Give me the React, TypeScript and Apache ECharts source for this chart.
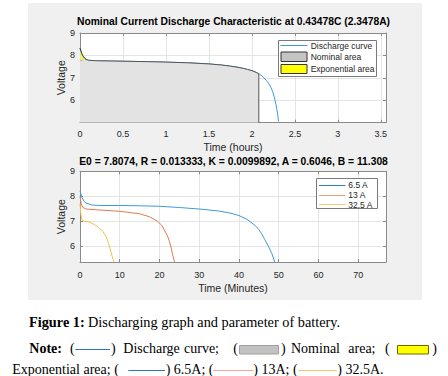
import React, { useEffect, useRef } from "react";
import * as echarts from "echarts";

// ---- Top plot: nominal current discharge (time in hours, voltage)
const dischargeHours = [0, 0.01, 0.02, 0.03, 0.04, 0.055, 0.07, 0.1, 0.2, 0.5, 0.8, 1.0, 1.25, 1.5, 1.65, 1.75, 1.85, 1.9, 1.95, 2.0, 2.05, 2.08, 2.11, 2.14, 2.17, 2.2, 2.22, 2.24, 2.26, 2.27, 2.28, 2.29, 2.3, 2.31];
const dischargeVolts = [8.33, 8.2, 8.08, 8.0, 7.94, 7.87, 7.82, 7.78, 7.76, 7.74, 7.72, 7.7, 7.67, 7.62, 7.57, 7.52, 7.46, 7.42, 7.37, 7.32, 7.24, 7.18, 7.1, 7.0, 6.88, 6.72, 6.58, 6.4, 6.15, 5.98, 5.8, 5.6, 5.35, 5.05];
const nominalEndHours = 2.08;
const exponentialEndHours = 0.07;
const exponentialLevel = 7.8;

// ---- Bottom plot: discharge at several currents (time in minutes, voltage)
const minutes65 = [0, 0.5, 1, 1.5, 3, 5, 10, 15, 20, 25, 30, 35, 38, 40, 42, 44, 45, 45.7, 46.5, 47.4, 48.3, 49.0];
const volts65 = [8.22, 7.95, 7.8, 7.73, 7.65, 7.63, 7.63, 7.62, 7.6, 7.55, 7.49, 7.41, 7.32, 7.23, 7.08, 6.84, 6.67, 6.5, 6.27, 6.0, 5.7, 5.37];
const minutes13 = [0, 0.3, 0.7, 1.5, 5, 10, 15, 17.5, 19.5, 20.5, 21.2, 22, 22.5, 23, 23.3, 23.8];
const volts13 = [8.0, 7.7, 7.56, 7.49, 7.45, 7.4, 7.3, 7.18, 7.0, 6.85, 6.66, 6.42, 6.2, 5.9, 5.66, 5.37];
const minutes325 = [0, 0.2, 0.5, 1, 2.3, 3.5, 4.9, 5.8, 6.5, 7.0, 7.4, 7.8, 8.2, 8.55];
const volts325 = [7.7, 7.3, 7.06, 7.0, 6.97, 6.88, 6.73, 6.58, 6.4, 6.2, 6.0, 5.77, 5.53, 5.37];

const seriesNames = ["6.5 A", "13 A", "32.5 A"];
const topLegendNames = ["Discharge curve", "Nominal area", "Exponential area"];
const topTitle = "Nominal Current Discharge Characteristic at 0.43478C (2.3478A)";
const bottomTitle = "E0 = 7.8074, R = 0.013333, K = 0.0099892, A = 0.6046, B = 11.308";

const SANS = '"Liberation Sans", Arial, Helvetica, sans-serif';
const SERIF = '"Liberation Serif", "Times New Roman", serif';
const AX = "#8a8a8a";
const GRIDC = "#e4e4e4";
const LBL = "#262626";
const C_BLUE = "#3d9ad8";
const C_BLUE2 = "#2a7fc4";
const C_ORANGE = "#e07a52";
const C_YELLOW = "#f0c24a";

const zip = (xs: number[], ys: number[]) => xs.map((x, i) => [x, ys[i]]);

export default function App() {
  const ref = useRef<HTMLDivElement>(null);
  useEffect(() => {
    if (!ref.current) return;
    const chart = echarts.init(ref.current, null, { renderer: "svg" });

    const curve = zip(dischargeHours, dischargeVolts);
    const nominal: number[][] = [[0, exponentialLevel]];
    curve.forEach((p) => {
      if (p[0] >= exponentialEndHours && p[0] <= nominalEndHours) nominal.push(p);
    });
    nominal.push([nominalEndHours, 5]);
    const expo = curve.filter((p) => p[0] <= exponentialEndHours);

    const stepFmt = (step: number, maxShown: number) => (v: number) =>
      Math.abs(v / step - Math.round(v / step)) < 1e-6 && v <= maxShown + 1e-9 ? String(v) : "";

    const xBase = (grid: number, min: number, max: number, interval: number, fmt: any, name: string, gap: number, margin: number) => [
      {
        gridIndex: grid, type: "value", min, max, interval, position: "bottom",
        axisLine: { show: true, onZero: false, lineStyle: { color: AX, width: 1 } },
        axisTick: { show: true, inside: true, length: 3, lineStyle: { color: AX } },
        axisLabel: { fontSize: 9, color: LBL, fontFamily: SANS, margin, formatter: fmt },
        splitLine: { show: true, lineStyle: { color: GRIDC, width: 1 } },
        name, nameLocation: "middle", nameGap: gap, nameMoveOverlap: false,
        nameTextStyle: { fontSize: 10.5, color: LBL, fontFamily: SANS },
      },
      {
        gridIndex: grid, type: "value", min, max, interval, position: "top",
        axisLine: { show: true, onZero: false, lineStyle: { color: AX, width: 1 } },
        axisTick: { show: true, inside: true, length: 3, lineStyle: { color: AX } },
        axisLabel: { show: false }, splitLine: { show: false },
      },
    ];
    const yBase = (grid: number, min: number, max: number, interval: number | undefined) => [
      {
        gridIndex: grid, type: "value", min, max, interval, position: "left",
        axisLine: { show: true, onZero: false, lineStyle: { color: AX, width: 1 } },
        axisTick: { show: true, inside: true, length: 3, lineStyle: { color: AX } },
        axisLabel: { fontSize: 9, color: LBL, fontFamily: SANS, margin: 5, showMinLabel: false, formatter: (v: number) => (v > 5.5 && Math.abs(v - Math.round(v)) < 1e-6 ? String(Math.round(v)) : "") },
        splitLine: { show: true, lineStyle: { color: GRIDC, width: 1 } },
        name: "Voltage", nameLocation: "middle", nameGap: 14, nameMoveOverlap: false,
        nameTextStyle: { fontSize: 10.5, color: LBL, fontFamily: SANS },
      },
      {
        gridIndex: grid, type: "value", min, max, interval, position: "right",
        axisLine: { show: true, onZero: false, lineStyle: { color: AX, width: 1 } },
        axisTick: { show: true, inside: true, length: 3, lineStyle: { color: AX } },
        axisLabel: { show: false }, splitLine: { show: false },
      },
    ];

    const txt = (x: number, y: number, text: string, font: string, extra: any = {}) => ({
      type: "text", x, y, z: 50,
      style: { text, font, fill: extra.fill || "#000", textAlign: extra.align || "left", textVerticalAlign: "middle" },
    });
    const hline = (x1: number, x2: number, y: number, color: string, w = 1) => ({
      type: "line", z: 50, shape: { x1, y1: y, x2, y2: y }, style: { stroke: color, lineWidth: w },
    });
    const box = (x: number, y: number, w: number, h: number, fill: string, stroke: string) => ({
      type: "rect", z: 50, shape: { x, y, width: w, height: h }, style: { fill, stroke, lineWidth: 1 },
    });

    const legFont = `8.5px ${SANS}`;
    const serif = `14px ${SERIF}`;
    const serifB = `bold 14px ${SERIF}`;

    const graphic: any[] = [
      { type: "rect", z: -10, shape: { x: 28, y: 3, width: 394, height: 297 }, style: { fill: "#f0f0f0" } },
      txt(233.5, 21, topTitle, `bold 10.3px ${SANS}`, { align: "center" }),
      txt(233.5, 161, bottomTitle, `bold 10.3px ${SANS}`, { align: "center" }),
      // top legend
      box(278.5, 40.5, 98, 36, "#ffffff", "#7a7a7a"),
      hline(280.5, 307.5, 45.5, C_BLUE),
      txt(310.7, 45.5, topLegendNames[0], legFont, { fill: LBL }),
      box(281, 52, 26, 9.5, "#c4c4c4", "#333333"),
      txt(310.7, 57, topLegendNames[1], legFont, { fill: LBL }),
      box(281, 64.5, 26, 9, "#ffff00", "#333333"),
      txt(310.7, 69, topLegendNames[2], legFont, { fill: LBL }),
      // bottom legend
      box(316.5, 178.5, 61, 30, "#ffffff", "#7a7a7a"),
      hline(319, 345.5, 185.5, C_BLUE2),
      txt(348.3, 185, seriesNames[0], legFont, { fill: LBL }),
      hline(319, 345.5, 195.5, "#e8a088"),
      txt(348.3, 195, seriesNames[1], legFont, { fill: LBL }),
      hline(319, 345.5, 204.5, "#f5d070"),
      txt(348.3, 204.5, seriesNames[2], legFont, { fill: LBL }),
      // caption
      {
        type: "text", x: 29, y: 321.5, z: 50,
        style: {
          text: "{b|Figure 1:} {r|Discharging graph and parameter of battery.}",
          textVerticalAlign: "middle",
          rich: { b: { font: `bold 14.3px ${SERIF}`, fill: "#000" }, r: { font: `14.3px ${SERIF}`, fill: "#000" } },
        },
      },
      txt(29.3, 348.5, "Note:", serifB),
      txt(70, 348.5, "(", serif),
      hline(75.3, 110, 349.5, "#2f72c4", 1.2),
      txt(111, 348.5, ")", serif),
      txt(123.3, 348.5, "Discharge", serif),
      txt(184, 348.5, "curve;", serif),
      txt(233.3, 348.5, "(", serif),
      box(239.5, 345.5, 39, 8.5, "#c2c2c2", "#a0a0a0"),
      txt(281, 348.5, ")", serif),
      txt(291, 348.5, "Nominal", serif),
      txt(348.3, 348.5, "area;", serif),
      txt(385, 348.5, "(", serif),
      box(397.5, 345.5, 31, 8.5, "#ffff00", "#6b6b00"),
      txt(432.3, 348.5, ")", serif),
      txt(12.3, 369.5, "Exponential area; (", serif),
      hline(128.3, 165, 370.5, "#2f72c4", 1.2),
      txt(165.7, 369.5, ") 6.5A; (", serif),
      hline(213.3, 253.3, 370.5, "#f2a898", 1.2),
      txt(253.3, 369.5, ") 13A; (", serif),
      hline(298.3, 336.7, 370.5, "#f7c56c", 1.2),
      txt(337.3, 369.5, ") 32.5A.", serif),
    ];

    chart.setOption({
      animation: false,
      backgroundColor: "#ffffff",
      textStyle: { fontFamily: SANS },
      grid: [
        { left: 80, top: 33, width: 306, height: 89.6, show: true, backgroundColor: "#ffffff", borderWidth: 0, containLabel: false },
        { left: 80, top: 171.3, width: 306, height: 90.7, show: true, backgroundColor: "#ffffff", borderWidth: 0, containLabel: false },
      ],
      xAxis: [
        ...xBase(0, 0, 3.56, 0.5, stepFmt(0.5, 3.5), "Time (hours)", 19, 7),
        ...xBase(1, 0, 77, 10, stepFmt(10, 70), "Time (Minutes)", 20, 8.5),
      ],
      yAxis: [...yBase(0, 5, 9, 1), ...yBase(1, 5.37, 9, undefined)],
      graphic,
      series: [
        {
          type: "line", name: topLegendNames[0], xAxisIndex: 0, yAxisIndex: 0, data: curve,
          showSymbol: false, symbol: "none", lineStyle: { color: C_BLUE, width: 1 }, z: 2,
        },
        {
          type: "line", name: topLegendNames[1], xAxisIndex: 0, yAxisIndex: 0, data: nominal,
          showSymbol: false, symbol: "none", lineStyle: { color: "#555555", width: 1 },
          areaStyle: { color: "#e3e3e3", opacity: 1, origin: "start" }, z: 3,
        },
        {
          type: "line", name: topLegendNames[2], xAxisIndex: 0, yAxisIndex: 0, data: expo,
          showSymbol: false, symbol: "none", lineStyle: { color: "#333333", width: 1 },
          areaStyle: { color: "#eeee7a", opacity: 1, origin: exponentialLevel }, z: 4,
        },
        {
          type: "line", name: seriesNames[0], xAxisIndex: 2, yAxisIndex: 2, data: zip(minutes65, volts65),
          showSymbol: false, symbol: "none", lineStyle: { color: C_BLUE, width: 1 },
        },
        {
          type: "line", name: seriesNames[1], xAxisIndex: 2, yAxisIndex: 2, data: zip(minutes13, volts13),
          showSymbol: false, symbol: "none", lineStyle: { color: C_ORANGE, width: 1 },
        },
        {
          type: "line", name: seriesNames[2], xAxisIndex: 2, yAxisIndex: 2, data: zip(minutes325, volts325),
          showSymbol: false, symbol: "none", lineStyle: { color: C_YELLOW, width: 1 },
        },
      ],
    });
    return () => chart.dispose();
  }, []);
  return <div ref={ref} style={{ position: "fixed", left: 0, top: 0, width: 448, height: 376 }} />;
}
